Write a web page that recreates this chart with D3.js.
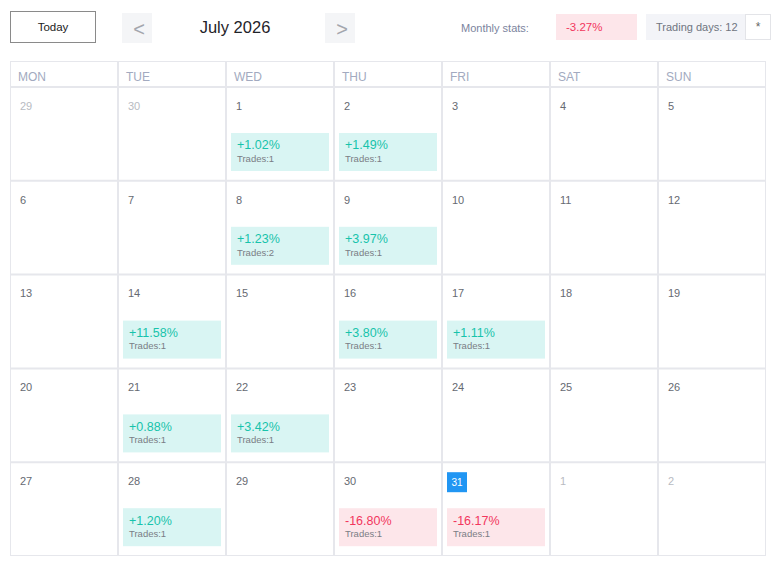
<!DOCTYPE html>
<html>
<head>
<meta charset="utf-8">
<script src="https://cdn.jsdelivr.net/npm/d3@7/dist/d3.min.js"></script>
<style>
  html, body { margin: 0; padding: 0; background: #fff; }
  svg { display: block; font-family: "Liberation Sans", Arial, sans-serif; }
</style>
</head>
<body>
<svg id="chart" width="777" height="569"></svg>
<script>
// ---- data ----
const year = 2026;
const monthIndex = 6; // July
const monthTitle = "July 2026";
const weekdays = ["MON", "TUE", "WED", "THU", "FRI", "SAT", "SUN"];
const tradeDays    = [1, 2, 8, 9, 14, 16, 17, 21, 22, 28, 30, 31];
const tradeReturns = [1.02, 1.49, 1.23, 3.97, 11.58, 3.80, 1.11, 0.88, 3.42, 1.20, -16.80, -16.17];
const tradeCounts  = [1, 1, 2, 1, 1, 1, 1, 1, 1, 1, 1, 1];
const monthlyReturn = -3.27;
const tradingDays = 12;
const todayDay = 31;

// ---- layout ----
const svg = d3.select("#chart");
const gridLeft = 10, gridRight = 766, headTop = 61, headBottom = 87, gridBottom = 556;

const monthStart = new Date(year, monthIndex, 1);
const gridStart = d3.timeMonday.floor(monthStart);
const cells = d3.timeDay.range(gridStart, d3.timeDay.offset(gridStart, 35));
const weeks = d3.range(5);

const x = d3.scaleBand().domain(weekdays).range([gridLeft, gridRight]);
const y = d3.scaleBand().domain(weeks).range([headBottom, gridBottom]);

const tradeMap = new Map(tradeDays.map((d, i) => [d, { ret: tradeReturns[i], n: tradeCounts[i] }]));

const gridColor = "#e6e7ec";

// ---- top toolbar ----
const bar = svg.append("g");
bar.append("rect").attr("x", 10.5).attr("y", 11.5).attr("width", 85).attr("height", 31)
  .attr("fill", "#fff").attr("stroke", "#8a8a8a");
bar.append("text").attr("x", 53).attr("y", 26.5).attr("dy", "0.35em").attr("text-anchor", "middle")
  .attr("font-size", 11.5).attr("fill", "#222").text("Today");

[[122, "<"], [325, ">"]].forEach(([bx, t]) => {
  bar.append("rect").attr("x", bx).attr("y", 13).attr("width", 30).attr("height", 30).attr("fill", "#f4f5f7");
  bar.append("text").attr("x", bx + 17).attr("y", 29).attr("dy", "0.35em").attr("text-anchor", "middle")
    .attr("font-size", 20).attr("fill", "#a3a6ad").text(t);
});
bar.append("text").attr("x", 235).attr("y", 27).attr("dy", "0.35em").attr("text-anchor", "middle")
  .attr("font-size", 16.5).attr("fill", "#1f2329").text(monthTitle);

bar.append("text").attr("x", 461).attr("y", 28).attr("dy", "0.35em")
  .attr("font-size", 11).attr("fill", "#7b849e").text("Monthly stats:");
bar.append("rect").attr("x", 556).attr("y", 14).attr("width", 81).attr("height", 26).attr("fill", "#fde6ea");
bar.append("text").attr("x", 566).attr("y", 27).attr("dy", "0.35em")
  .attr("font-size", 11.5).attr("fill", monthlyReturn < 0 ? "#f2365d" : "#17c3ab")
  .text((monthlyReturn > 0 ? "+" : "") + monthlyReturn.toFixed(2) + "%");
bar.append("rect").attr("x", 646).attr("y", 14).attr("width", 99).attr("height", 26).attr("fill", "#f3f4f8");
bar.append("text").attr("x", 656).attr("y", 27).attr("dy", "0.35em")
  .attr("font-size", 11).attr("fill", "#6f7480").text("Trading days: " + tradingDays);
bar.append("rect").attr("x", 745.5).attr("y", 14.5).attr("width", 25).attr("height", 25)
  .attr("fill", "#fff").attr("stroke", "#e3e4e8");
bar.append("text").attr("x", 758).attr("y", 27).attr("dy", "0.35em").attr("text-anchor", "middle")
  .attr("font-size", 12).attr("fill", "#666").text("*");

// ---- grid lines ----
const g = svg.append("g");
g.append("rect").attr("x", gridLeft + 0.5).attr("y", headTop + 0.5)
  .attr("width", gridRight - gridLeft - 1).attr("height", gridBottom - headTop - 1)
  .attr("fill", "none").attr("stroke", gridColor).attr("stroke-width", 1);
g.selectAll("line.v").data(weekdays.slice(1)).join("line").attr("class", "v")
  .attr("x1", d => x(d)).attr("x2", d => x(d)).attr("y1", headTop).attr("y2", gridBottom)
  .attr("stroke", gridColor).attr("stroke-width", 2);
g.selectAll("line.h").data(weeks).join("line").attr("class", "h")
  .attr("x1", gridLeft).attr("x2", gridRight).attr("y1", d => y(d)).attr("y2", d => y(d))
  .attr("stroke", gridColor).attr("stroke-width", 2);

// weekday header
g.selectAll("text.wd").data(weekdays).join("text").attr("class", "wd")
  .attr("x", d => x(d) + 8).attr("y", 77).attr("dy", "0.35em")
  .attr("font-size", 12).attr("fill", "#a2aac0").text(d => d);

// ---- cells ----
const cellG = g.selectAll("g.cell").data(cells).join("g").attr("class", "cell")
  .attr("transform", (d, i) => `translate(${x(weekdays[i % 7])},${y(Math.floor(i / 7))})`);

cellG.each(function(d) {
  const c = d3.select(this);
  const inMonth = d.getMonth() === monthIndex;
  const day = d.getDate();
  const isToday = inMonth && day === todayDay;
  if (isToday) {
    c.append("rect").attr("x", 5).attr("y", 10).attr("width", 20).attr("height", 20).attr("fill", "#2196f3");
    c.append("text").attr("x", 15).attr("y", 20).attr("dy", "0.35em").attr("text-anchor", "middle")
      .attr("font-size", 10).attr("fill", "#fff").text(day);
  } else {
    c.append("text").attr("x", 10).attr("y", 19).attr("dy", "0.35em")
      .attr("font-size", 11).attr("fill", inMonth ? "#666a72" : "#b8bbc2").text(day);
  }
  if (inMonth && tradeMap.has(day)) {
    const t = tradeMap.get(day);
    const pos = t.ret >= 0;
    c.append("rect").attr("x", 5).attr("y", 46).attr("width", x.bandwidth() - 10).attr("height", 38)
      .attr("fill", pos ? "#d9f5f3" : "#fde6ea");
    c.append("text").attr("x", 11).attr("y", 58).attr("dy", "0.35em")
      .attr("font-size", 12.5).attr("fill", pos ? "#17c3ab" : "#f2365d")
      .text((pos ? "+" : "") + t.ret.toFixed(2) + "%");
    c.append("text").attr("x", 11).attr("y", 71.5).attr("dy", "0.35em")
      .attr("font-size", 9.5).attr("fill", "#7a7d85").text("Trades:" + t.n);
  }
});
</script>
</body>
</html>
